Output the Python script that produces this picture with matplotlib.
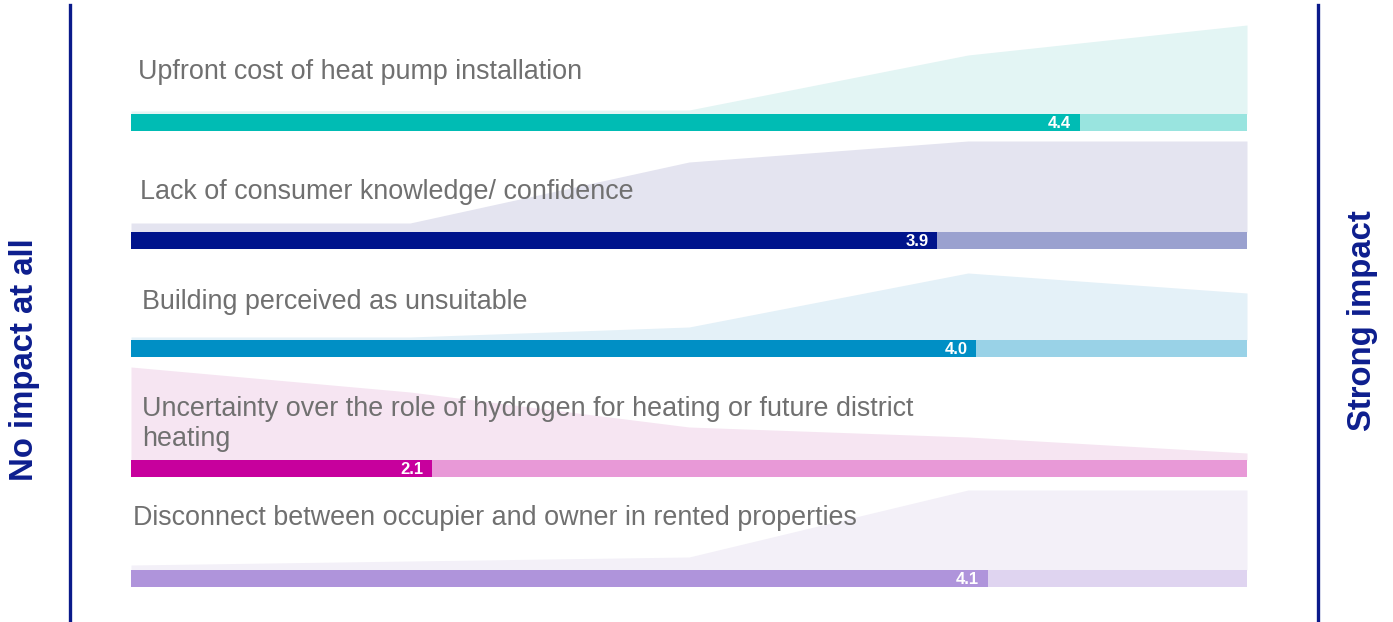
import matplotlib.pyplot as plt
from matplotlib.lines import Line2D

plt.rcParams['font.family'] = ['Liberation Sans', 'DejaVu Sans']

# survey items, mean score (1 = no impact, 5 = strong impact)
labels = [
    "Upfront cost of heat pump installation",
    "Lack of consumer knowledge/ confidence",
    "Building perceived as unsuitable",
    "Uncertainty over the role of hydrogen for heating or future district\nheating",
    "Disconnect between occupier and owner in rented properties",
]
means = [4.40, 3.89, 4.03, 2.08, 4.07]

# response spread over the five answer levels (relative height)
levels = [1, 2, 3, 4, 5]
spread_cost = [3, 3.5, 4, 59, 89]
spread_knowledge = [9, 9, 70, 91, 91]
spread_building = [3, 3, 13, 67, 47]
spread_hydrogen = [93, 68, 33, 23, 7]
spread_rented = [5, 9, 13, 80, 80]
spreads = [spread_cost, spread_knowledge, spread_building, spread_hydrogen, spread_rented]

# colours: full bar, remainder, background shape
dark = ['#00BCB4', '#00148C', '#008FC5', '#C7009D', '#AF94DB']
light = ['#99E4DF', '#9AA1CF', '#99D2E7', '#E899D7', '#DFD4F0']
pale = ['#E3F5F4', '#E4E4F0', '#E4F1F8', '#F6E5F2', '#F3F0F8']

W, H = 1393, 622
fig = plt.figure(figsize=(W / 100, H / 100), dpi=100)
ax = fig.add_axes([0, 0, 1, 1])

# layout in pixel-ish units
x0_px, x1_px = 131, 1247
unit = (x1_px - x0_px) / 4.0
ax.set_xlim(1 - x0_px / unit, 5 + (W - x1_px) / unit)
ax.set_ylim(H, 0)
ax.axis('off')

bar_top = [114, 232, 340, 460, 570]
bar_h = 17
label_y = [72, 192, 302, 424, 518]
label_dx = [7, 9, 11, 11, 2]

for i in range(len(labels)):
    top = bar_top[i]
    base = [top] * len(levels)
    upper = [top - s for s in spreads[i]]
    ax.fill_between(levels, upper, base, color=pale[i], lw=0, zorder=1)
    ax.barh(top + bar_h / 2, 4, left=1, height=bar_h, color=light[i], zorder=2)
    ax.barh(top + bar_h / 2, means[i] - 1, left=1, height=bar_h, color=dark[i], zorder=3)
    ax.text(means[i] - 9 / unit, top + bar_h / 2 + 1, f"{means[i]:.1f}", color='white',
            fontsize=12, fontweight='bold', ha='right', va='center', zorder=4)
    ax.text(1 + label_dx[i] / unit, label_y[i], labels[i], color='#707070',
            fontsize=19.4, ha='left', va='center', linespacing=1.25, zorder=4)

navy = '#0D1E8E'
fig.add_artist(Line2D([70 / W, 70 / W], [0, 1 - 5 / H], color='#0A1A8A', lw=2.4))
fig.add_artist(Line2D([1318 / W, 1318 / W], [0, 1 - 5 / H], color='#0A1A8A', lw=2.4))
fig.text(25 / W, 1 - 360 / H, "No impact at all", rotation=90, color=navy,
         fontsize=23.7, fontweight='bold', ha='center', va='center')
fig.text(1362 / W, 1 - 321 / H, "Strong impact", rotation=90, color=navy,
         fontsize=23.7, fontweight='bold', ha='center', va='center')

fig.savefig('out.png', dpi=100)
